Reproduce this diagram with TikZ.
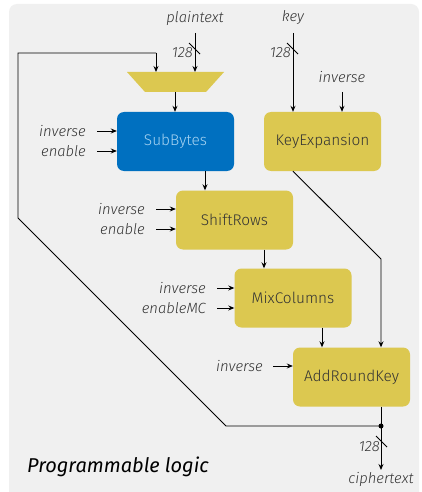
\documentclass[tikz,border=0pt]{standalone}
\usepackage{fontspec}
\setmainfont{Fira Sans}[UprightFont={* Light},ItalicFont={* Light Italic}]
\newfontfamily\ttlfont{Fira Sans}
\usetikzlibrary{arrows.meta}
\definecolor{bgc}{HTML}{F0F0F0}
\definecolor{ylw}{HTML}{DCC850}
\definecolor{blu}{HTML}{0070C0}
\definecolor{txt}{HTML}{333333}
\definecolor{sbtxt}{HTML}{A8D4F2}
\begin{document}
\begin{tikzpicture}[x=1pt,y=-1pt,
  blk/.style={draw=none,fill=ylw,rounded corners=7pt,minimum width=117pt,minimum height=59pt,inner sep=0pt,text=txt,font=\fontsize{15.4}{17}\selectfont},
  lbl/.style={inner sep=0pt,text=txt,font=\fontsize{14.8}{17}\selectfont\itshape},
  wire/.style={line width=0.9pt,draw=black},
  arr/.style={wire,-{Stealth[length=6pt,width=5pt]}}]
\useasboundingbox (0,0) rectangle (421,492);
\fill[white] (0,0) rectangle (421,492);
\fill[bgc,rounded corners=8pt] (9,4) rectangle (419,500);
% mux
\fill[ylw] (127,72) -- (224,72) -- (206,92) -- (145,92) -- cycle;
\coordinate (muxL) at (156,72);
\coordinate (muxR) at (195,72);
\coordinate (muxB) at (175,92);
% blocks
\node[blk,fill=blu,text=sbtxt] (sb) at (175.5,141.5) {SubBytes};
\node[blk] (ke) at (322.5,141.5) {KeyExpansion};
\node[blk] (sr) at (234.5,220) {ShiftRows};
\node[blk] (mc) at (293,298) {MixColumns};
\node[blk] (ark) at (351.5,377) {AddRoundKey};
% top labels
\node[lbl] (pt) at (195,18) {plaintext};
\node[lbl] (key) at (293,18) {key};
\node[lbl] (kinv) at (342,77) {inverse};
\coordinate (ptS) at (195,33);
\coordinate (keyS) at (293,33);
\coordinate (kinvS) at (342,92);
\draw[arr] (ptS) -- (muxR);
\draw[wire] (189,43) -- (200,54);
\node[lbl,anchor=east] (n128a) at (193,53) {128};
\draw[arr] (keyS) -- (ke.north -| keyS);
\draw[wire] (287,43) -- (298,54);
\node[lbl,anchor=east] (n128b) at (291,53) {128};
\draw[arr] (kinvS) -- (ke.north -| kinvS);
\draw[arr] (muxB) -- (sb.north -| muxB);
% feedback
\coordinate (fb1) at (18,53);
\coordinate (fb2) at (18,218);
\coordinate (fb3) at (226,426);
\node[circle,fill=black,inner sep=0pt,minimum size=5pt] (dot) at (381,426) {};
\draw[wire] (dot.center) -- (fb3) -- (fb2) -- (fb1) -- (fb1 -| muxL);
\draw[arr] (fb1 -| muxL) -- (muxL);
% side inputs
\node[lbl,anchor=east] (i1) at (86,131) {inverse};
\node[lbl,anchor=east] (e1) at (86,151) {enable};
\draw[arr] (97,131) -- (sb.west |- 0,131);
\draw[arr] (97,151) -- (sb.west |- 0,151);
\node[lbl,anchor=east] (i2) at (145,209) {inverse};
\node[lbl,anchor=east] (e2) at (145,229) {enable};
\draw[arr] (156,209) -- (sr.west |- 0,209);
\draw[arr] (156,229) -- (sr.west |- 0,229);
\node[lbl,anchor=east] (i3) at (206,288) {inverse};
\node[lbl,anchor=east] (e3) at (206,308) {enableMC};
\draw[arr] (217,288) -- (mc.west |- 0,288);
\draw[arr] (217,308) -- (mc.west |- 0,308);
\node[lbl,anchor=east] (i4) at (263,366) {inverse};
\draw[arr] (273,366) -- (ark.west |- 0,366);
% data path
\draw[arr] (sb.south -| 205,0) -- (sr.north -| 205,0);
\draw[arr] (sr.south -| 264,0) -- (mc.north -| 264,0);
\draw[arr] (mc.south -| 322,0) -- (ark.north -| 322,0);
\draw[arr] (ke.south -| 293,0) -- (381,259) -- (ark.north -| 381,0);
% output
\draw[wire] (ark.south -| 381,0) -- (dot.center);
\coordinate (outE) at (381,470);
\draw[arr] (dot.center) -- (outE);
\draw[wire] (376,436) -- (387,447);
\node[lbl,anchor=east] (n128c) at (380,447) {128};
\node[lbl] (ct) at (381,479) {ciphertext};
\node[inner sep=0pt,anchor=west,text=black,font=\ttlfont\fontsize{20}{24}\selectfont\itshape] (pl) at (27,467) {Programmable logic};
\end{tikzpicture}
\end{document}
